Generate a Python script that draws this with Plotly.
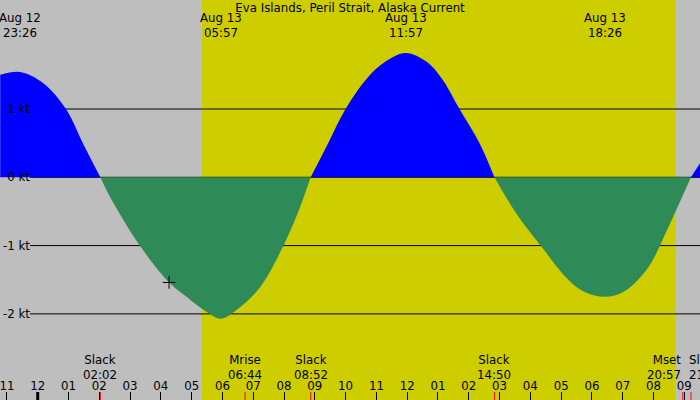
from datetime import datetime
import plotly.graph_objs as go

# current speed readings (knots)
flow_times = [
    "2024-08-12 22:47", "2024-08-12 23:26", "2024-08-13 00:12", "2024-08-13 00:55",
    "2024-08-13 01:28", "2024-08-13 02:02",
    "2024-08-13 02:24", "2024-08-13 03:19", "2024-08-13 04:16", "2024-08-13 04:50",
    "2024-08-13 05:23", "2024-08-13 05:57", "2024-08-13 06:28", "2024-08-13 06:57",
    "2024-08-13 07:20", "2024-08-13 07:59", "2024-08-13 08:28", "2024-08-13 08:52",
    "2024-08-13 09:26", "2024-08-13 10:00", "2024-08-13 10:42",
    "2024-08-13 11:17", "2024-08-13 11:57", "2024-08-13 12:38", "2024-08-13 13:07",
    "2024-08-13 13:42", "2024-08-13 14:21", "2024-08-13 14:50",
    "2024-08-13 15:30", "2024-08-13 16:20", "2024-08-13 17:14",
    "2024-08-13 17:46", "2024-08-13 18:26", "2024-08-13 19:01", "2024-08-13 19:30",
    "2024-08-13 19:55", "2024-08-13 20:26", "2024-08-13 21:13",
    "2024-08-13 21:31",
]
flow_knots = [
    1.50, 1.54, 1.37, 1.00,
    0.50, 0.0,
    -0.33, -1.00, -1.54, -1.75,
    -1.94, -2.07, -1.94, -1.75,
    -1.54, -1.00, -0.50, 0.0,
    0.50, 1.00, 1.45,
    1.69, 1.82, 1.69, 1.45,
    1.00, 0.50, 0.0,
    -0.50, -1.00, -1.50,
    -1.68, -1.75, -1.68, -1.50,
    -1.26, -0.78, 0.0,
    0.21,
]

extreme_times = ["2024-08-12 23:26", "2024-08-13 05:57", "2024-08-13 11:57", "2024-08-13 18:26"]

event_names = ["Slack", "Mrise", "Slack", "Slack", "Mset", "Slack"]
event_times = ["2024-08-13 02:02", "2024-08-13 06:44", "2024-08-13 08:52",
               "2024-08-13 14:50", "2024-08-13 20:57", "2024-08-13 21:13"]

sunrise = "2024-08-13 05:20"
sunset = "2024-08-13 20:43"
midnight = "2024-08-13 00:00"
now_time = "2024-08-13 04:16"
now_knots = -1.54

depth_ticks = [-2, -1, 0, 1]
depth_labels = [f"{v} kt" for v in depth_ticks]

x_range = ["2024-08-12 22:46:32", "2024-08-13 21:30:37"]
y_range = [-3.261, 2.596]

GRAY = "#bebebe"
YELLOW = "#cdcd00"
FONT = dict(family="DejaVu Sans", size=11.8, color="black")
LABEL_EDGE = 30 / 700  # depth labels end here, depth lines start here


def split_at_slack(times, values):
    segments = []
    cur_t, cur_v = [], []
    for t, v in zip(times, values):
        cur_t.append(t)
        cur_v.append(v)
        if v == 0 and len(cur_t) > 1:
            segments.append((cur_t, cur_v))
            cur_t, cur_v = [t], [v]
    if len(cur_t) > 1:
        segments.append((cur_t, cur_v))
    return segments


fig = go.Figure()

for seg_t, seg_v in split_at_slack(flow_times, flow_knots):
    colour = "#0000ff" if max(seg_v) > 0 else "#2e8b57"
    fig.add_trace(go.Scatter(
        x=seg_t, y=seg_v,
        mode="lines",
        line=dict(shape="spline", smoothing=1.0, width=0, color=colour),
        fill="tozeroy",
        fillcolor=colour,
        hoverinfo="skip",
    ))

# "now" marker, put on the label axes so those get drawn
fig.add_trace(go.Scatter(
    x=[now_time], y=[now_knots], xaxis="x2", yaxis="y2",
    mode="markers",
    marker=dict(symbol="cross-thin", size=9, line=dict(width=1, color="black")),
    hoverinfo="skip",
))

# daylight
fig.add_shape(type="rect", xref="x", yref="paper", x0=sunrise, x1=sunset, y0=0, y1=1,
              fillcolor=YELLOW, line_width=0, layer="below")
# depth lines, starting right of their labels
for v in depth_ticks:
    fig.add_shape(type="line", xref="paper", yref="y", x0=LABEL_EDGE, x1=1, y0=v, y1=v,
                  line=dict(color="black", width=1), layer="between")

# thick midnight tick, red event ticks
fig.add_shape(type="line", xref="x", yref="paper", x0=midnight, x1=midnight, y0=0, y1=0.02,
              line=dict(color="black", width=3), layer="above")
for t in event_times:
    fig.add_shape(type="line", xref="x", yref="paper", x0=t, x1=t, y0=0, y1=0.02,
                  line=dict(color="red", width=1), layer="above")

# max / min labels along the top
for t in extreme_times:
    d = datetime.strptime(t, "%Y-%m-%d %H:%M")
    fig.add_annotation(x=t, y=1 - 25 / 400, xref="x", yref="paper",
                       text=d.strftime("%b %d") + "<br>" + d.strftime("%H:%M"),
                       showarrow=False, font=FONT, yanchor="middle")

# event labels along the bottom
for i, (name, t) in enumerate(zip(event_names, event_times)):
    d = datetime.strptime(t, "%Y-%m-%d %H:%M")
    anchor, shift = "center", 0
    if name == "Mset":
        anchor = "right"
    if i == len(event_times) - 1:
        anchor, shift = "left", -4
    fig.add_annotation(x=t, y=1 - 367.5 / 400, xref="x", yref="paper",
                       text=name + "<br>" + d.strftime("%H:%M"),
                       showarrow=False, font=FONT, yanchor="middle",
                       xanchor=anchor, align=anchor, xshift=shift)

fig.update_layout(
    width=700, height=400,
    margin=dict(l=0, r=0, t=0, b=0),
    paper_bgcolor=GRAY, plot_bgcolor=GRAY,
    showlegend=False,
    font=FONT,
    title=dict(text="Eva Islands, Peril Strait, Alaska Current", x=0.5, xanchor="center",
               y=1 - 8 / 400, yanchor="middle", font=FONT),
    xaxis=dict(
        type="date", range=x_range,
        dtick=3600000,
        ticks="inside", ticklen=8, tickcolor="black", tickwidth=1,
        showticklabels=False,
        showgrid=False, zeroline=False, showline=False,
    ),
    # hour labels sit just above the tick marks
    xaxis2=dict(
        type="date", range=x_range, overlaying="x", matches="x",
        anchor="free", position=1 - 377 / 400, side="bottom",
        dtick=3600000, tickformat="%I",
        ticks="", showline=False, showgrid=False, zeroline=False,
        ticklabeloverflow="allow",
        tickfont=FONT,
    ),
    yaxis=dict(
        range=y_range,
        showticklabels=False, ticks="",
        showgrid=False, zeroline=False, showline=False,
    ),
    # depth labels, right-aligned just left of the depth lines
    yaxis2=dict(
        range=y_range, overlaying="y", matches="y",
        anchor="free", position=LABEL_EDGE, side="left",
        tickmode="array", tickvals=depth_ticks, ticktext=depth_labels,
        ticks="", showline=False, showgrid=False, zeroline=False,
        ticklabeloverflow="allow",
        tickfont=FONT,
    ),
)

fig.write_html("out.html", config={"displayModeBar": False},
               post_script="document.body.style.margin='0';")
